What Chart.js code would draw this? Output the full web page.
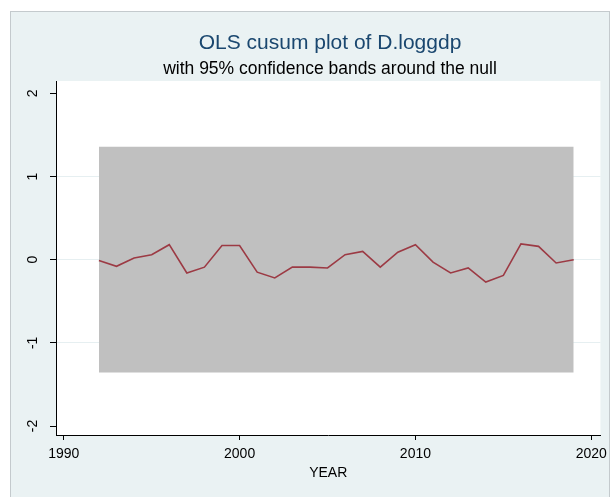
<!DOCTYPE html>
<html>
<head>
<meta charset="utf-8">
<script src="https://cdn.jsdelivr.net/npm/chart.js@4.4.1/dist/chart.umd.min.js"></script>
<style>
  html, body { margin: 0; padding: 0; background: #ffffff; }
  #frame { position: absolute; left: 10px; top: 11px; width: 600px; height: 500px;
           background: #eaf2f3; border: 1px solid #c4cacd; box-sizing: border-box; }
  #wrap { position: absolute; left: 0; top: 0; width: 613px; height: 497px; }
</style>
</head>
<body>
<div id="frame"></div>
<div id="wrap"><canvas id="c" width="613" height="497"></canvas></div>
<script>
const titleText = "OLS cusum plot of D.loggdp";
const subtitleText = "with 95% confidence bands around the null";
const xAxisTitle = "YEAR";
const years = [1992, 1993, 1994, 1995, 1996, 1997, 1998, 1999, 2000, 2001,
               2002, 2003, 2004, 2005, 2006, 2007, 2008, 2009, 2010, 2011,
               2012, 2013, 2014, 2015, 2016, 2017, 2018, 2019];
const cusum = [-0.01, -0.08, 0.02, 0.06, 0.18, -0.16, -0.09, 0.17, 0.17, -0.15,
               -0.22, -0.09, -0.09, -0.10, 0.06, 0.10, -0.09, 0.09, 0.18, -0.03,
               -0.16, -0.10, -0.27, -0.19, 0.19, 0.16, -0.04, 0.00];
const bandUpper = [1.358, 1.358];
const bandLower = [-1.358, -1.358];
const bandYears = [1992, 2019];
const xTicks = [1990, 2000, 2010, 2020];
const yTicks = [-2, -1, 0, 1, 2];

const plotBg = {
  id: 'plotBg',
  beforeDraw(chart) {
    const {ctx, chartArea: a} = chart;
    ctx.save();
    ctx.fillStyle = '#ffffff';
    ctx.fillRect(a.left, a.top, a.right - a.left, a.bottom - a.top);
    ctx.restore();
  }
};

// vertical (bottom-to-top) y tick labels, positioned through the y scale
const yLabels = {
  id: 'yLabels',
  afterDraw(chart) {
    const {ctx} = chart;
    const s = chart.scales.y;
    ctx.save();
    ctx.fillStyle = '#000';
    ctx.font = '14px "Liberation Sans"';
    ctx.textAlign = 'center';
    ctx.textBaseline = 'middle';
    yTicks.forEach(v => {
      ctx.save();
      ctx.translate(s.right - 23, s.getPixelForValue(v));
      ctx.rotate(-Math.PI / 2);
      ctx.fillText(String(v), 0, 0);
      ctx.restore();
    });
    ctx.restore();
  }
};

new Chart(document.getElementById('c'), {
  type: 'line',
  data: {
    datasets: [
      { data: bandYears.map((x, i) => ({x, y: bandUpper[i]})),
        borderColor: 'rgba(0,0,0,0)', borderWidth: 0, pointRadius: 0,
        backgroundColor: '#c0c0c0', fill: '+1', order: 2 },
      { data: bandYears.map((x, i) => ({x, y: bandLower[i]})),
        borderColor: 'rgba(0,0,0,0)', borderWidth: 0, pointRadius: 0,
        fill: false, order: 2 },
      { data: years.map((x, i) => ({x, y: cusum[i]})),
        borderColor: '#9c3a44', borderWidth: 1.6, pointRadius: 0,
        tension: 0, fill: false, order: 1 }
    ]
  },
  options: {
    responsive: false,
    animation: false,
    events: [],
    layout: { padding: { left: 55, right: 8, top: 0, bottom: 0 } },
    plugins: {
      legend: { display: false },
      tooltip: { enabled: false },
      title: { display: true, text: titleText, color: '#1a476f',
               font: { family: 'Liberation Sans', size: 21, weight: 'normal' },
               padding: { top: 31, bottom: 1 } },
      subtitle: { display: true, text: subtitleText, color: '#000000',
                  font: { family: 'Liberation Sans', size: 17.5, weight: 'normal' },
                  padding: { top: 1, bottom: 1.8 } }
    },
    scales: {
      x: {
        type: 'linear', min: 1989.56, max: 2020.52,
        afterBuildTicks: s => { s.ticks = xTicks.map(v => ({value: v})); },
        afterFit: s => { s.height = 62; },
        ticks: { color: '#000', font: { family: 'Liberation Sans', size: 14 }, padding: 6,
                 maxRotation: 0, minRotation: 0, callback: v => String(v) },
        grid: { drawOnChartArea: false, drawTicks: true, tickLength: 5, tickColor: '#000' },
        border: { display: true, color: '#000', width: 1 },
        title: { display: true, text: xAxisTitle, color: '#000',
                 font: { family: 'Liberation Sans', size: 14 }, padding: { top: 0, bottom: 15 } }
      },
      y: {
        type: 'linear', min: -2.108, max: 2.148,
        afterBuildTicks: s => { s.ticks = yTicks.map(v => ({value: v})); },
        afterFit: s => { s.width = 1; },
        ticks: { display: false },
        grid: { drawTicks: true, tickLength: 6, tickColor: '#000',
                color: c => (c.tick && Math.abs(c.tick.value) === 2) ? 'rgba(0,0,0,0)' : '#e6eff1' },
        border: { display: true, color: '#000', width: 1 }
      }
    }
  },
  plugins: [plotBg, yLabels]
});
</script>
</body>
</html>
